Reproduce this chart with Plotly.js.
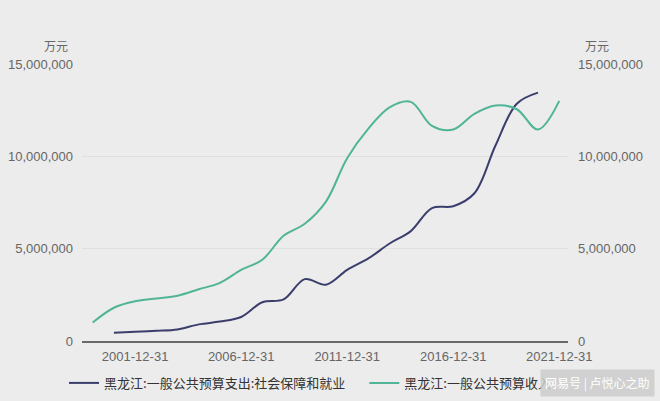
<!DOCTYPE html>
<html>
<head>
<meta charset="utf-8">
<script src="https://cdn.plot.ly/plotly-3.0.1.min.js"></script>
<style>
html,body{margin:0;padding:0;background:#ececec;}
#chart{width:660px;height:401px;}
</style>
</head>
<body>
<div id="chart"></div>
<script>
// Data (万元)
const blueYears = [2000,2001,2002,2003,2004,2005,2006,2007,2008,2009,2010,2011,2012,2013,2014,2015,2016,2017,2018,2019,2020];
const blueValues = [450000,500000,550000,620000,900000,1050000,1300000,2100000,2250000,3350000,3050000,3850000,4470000,5280000,5950000,7200000,7300000,8000000,10600000,12850000,13450000];
const greenYears = [1999,2000,2001,2002,2003,2004,2005,2006,2007,2008,2009,2010,2011,2012,2013,2014,2015,2016,2017,2018,2019,2020,2021];
const greenValues = [1000000,1800000,2150000,2300000,2450000,2800000,3150000,3850000,4400000,5700000,6350000,7550000,9900000,11500000,12650000,12950000,11650000,11450000,12300000,12750000,12550000,11450000,13000000];
const blueName = '黑龙江:一般公共预算支出:社会保障和就业';
const greenName = '黑龙江:一般公共预算收入';
const tickDates = ['2001-12-31','2006-12-31','2011-12-31','2016-12-31','2021-12-31'];
const tickLabels = ['2001-12-31','2006-12-31','2011-12-31','2016-12-31','2021-12-31'];
const yTicks = [0,5000000,10000000,15000000];
const yTickLabels = ['0','5,000,000','10,000,000','15,000,000'];
const unitLabel = '万元';

const toDates = ys => ys.map(y => y + '-12-31');

const traces = [
  {x: toDates(blueYears), y: blueValues, name: blueName, type: 'scatter', mode: 'lines',
   line: {color: '#3b3e6c', width: 2, shape: 'spline', smoothing: 1}, yaxis: 'y', legend: 'legend'},
  {x: toDates(greenYears), y: greenValues, name: greenName, type: 'scatter', mode: 'lines',
   line: {color: '#4fb596', width: 2, shape: 'spline', smoothing: 1}, yaxis: 'y2', legend: 'legend2'}
];

const font = {family: '"Liberation Sans", Arial, "Noto Sans CJK SC", sans-serif', size: 13, color: '#666'};
const legendFont = {family: '"Noto Sans CJK SC", sans-serif', size: 13, color: '#333'};

const layout = {
  width: 660, height: 401,
  paper_bgcolor: '#ececec', plot_bgcolor: '#ececec',
  margin: {l: 82, r: 92, t: 64, b: 60, autoexpand: false},
  font: font,
  showlegend: true,
  legend: {orientation: 'h', xref: 'container', yref: 'container', x: 0.097, y: 0.045,
    xanchor: 'left', yanchor: 'middle', font: legendFont,
    bgcolor: 'rgba(0,0,0,0)', itemwidth: 30},
  legend2: {orientation: 'h', xref: 'container', yref: 'container', x: 0.552, y: 0.045,
    xanchor: 'left', yanchor: 'middle', font: legendFont,
    bgcolor: 'rgba(0,0,0,0)', itemwidth: 30},
  xaxis: {type: 'date', range: ['1999-06-30', '2022-05-31'], tickvals: tickDates, ticktext: tickLabels,
    showgrid: false, zeroline: false, showline: true, linecolor: '#6a6a6a', linewidth: 2,
    ticks: '', ticklabelstandoff: 2, tickfont: {size: 13, color: '#666'}},
  yaxis: {range: [0, 15000000], tickvals: yTicks, ticktext: yTickLabels, showgrid: true,
    gridcolor: '#e0e0e0', gridwidth: 1, zeroline: false, showline: false, ticks: '',
    ticklabelstandoff: 8, tickfont: {size: 13, color: '#666'}},
  yaxis2: {range: [0, 15000000], tickvals: yTicks, ticktext: yTickLabels, overlaying: 'y', side: 'right',
    showgrid: false, zeroline: false, showline: false, ticks: '', ticklabelstandoff: 9,
    tickfont: {size: 13, color: '#666'}},
  annotations: [
    {text: unitLabel, xref: 'paper', yref: 'paper', x: -0.025, y: 1.03, xanchor: 'right', yanchor: 'bottom',
     showarrow: false, font: {family: '"Noto Sans CJK SC", sans-serif', size: 12, color: '#666'}},
    {text: unitLabel, xref: 'paper', yref: 'paper', x: 1.03, y: 1.03, xanchor: 'left', yanchor: 'bottom',
     showarrow: false, font: {family: '"Noto Sans CJK SC", sans-serif', size: 12, color: '#666'}},
    {text: '网易号 | 卢悦心之助', xref: 'paper', yref: 'paper', x: 1.18, y: -0.152, xanchor: 'right', yanchor: 'middle',
     showarrow: false, bgcolor: 'rgba(205,205,205,0.85)', borderpad: 4,
     font: {family: '"Noto Sans CJK SC", sans-serif', size: 12, color: '#ffffff'}}
  ]
};

Plotly.newPlot('chart', traces, layout, {displayModeBar: false, staticPlot: true});
</script>
</body>
</html>
